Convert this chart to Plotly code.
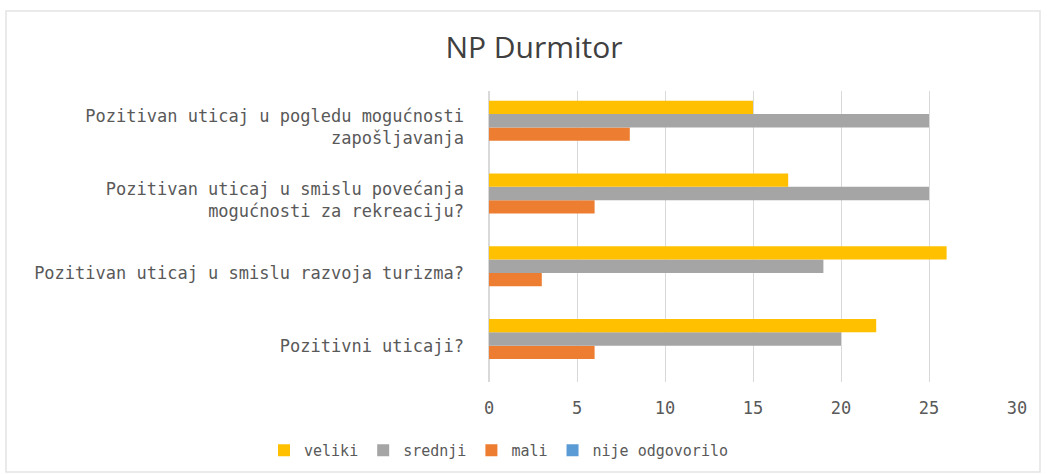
import plotly.graph_objects as go

categories = [
    "Pozitivni uticaji?",
    "Pozitivan uticaj u smislu razvoja turizma?",
    "Pozitivan uticaj u smislu povećanja<br>mogućnosti za rekreaciju?",
    "Pozitivan uticaj u pogledu mogućnosti<br>zapošljavanja",
]
veliki = [22, 26, 17, 15]
srednji = [20, 19, 25, 25]
mali = [6, 3, 6, 8]
nije_odgovorilo = [0, 0, 0, 0]

series = [
    ("nije odgovorilo", nije_odgovorilo, "#5B9BD5"),
    ("mali", mali, "#ED7D31"),
    ("srednji", srednji, "#A5A5A5"),
    ("veliki", veliki, "#FFC000"),
]

FONT = "DejaVu Sans Mono"
TXT = "#595959"

fig = go.Figure()
for name, vals, color in series:
    fig.add_trace(go.Bar(y=categories, x=vals, name=name, orientation="h",
                         marker=dict(color=color, line=dict(width=0))))

W, H = 1047, 474
ml, mr, mt, mb = 489, 30, 91, 92
pw, ph = W - ml - mr, H - mt - mb

def px_x(p):
    return (p - ml) / pw

def px_y(p):
    return (H - mb - p) / ph

fig.update_layout(
    width=W, height=H,
    margin=dict(l=ml, r=mr, t=mt, b=mb, autoexpand=False),
    paper_bgcolor="white", plot_bgcolor="white",
    font=dict(family=FONT, color=TXT, size=16),
    title=dict(text="NP Durmitor", x=534 / W, xanchor="center", y=1 - 47 / H, yanchor="middle",
               font=dict(family="Open Sans", size=30, color="#404040")),
    barmode="group", bargap=0.27, bargroupgap=0,
    legend=dict(orientation="h", x=px_x(264), xanchor="left", y=px_y(434), yanchor="top",
                traceorder="reversed", font=dict(family=FONT, size=15, color=TXT),
                itemwidth=30, tracegroupgap=0),
    showlegend=True,
    xaxis=dict(range=[0, 30], dtick=5, showgrid=True, gridcolor="#D9D9D9", gridwidth=1,
               zeroline=True, zerolinecolor="#D9D9D9", showline=False,
               ticklabelstandoff=14,
               tickfont=dict(family=FONT, size=17, color=TXT), fixedrange=True),
    yaxis=dict(type="category", categoryorder="array", categoryarray=categories,
               showgrid=False, showline=False, ticks="", ticklabelstandoff=24,
               tickfont=dict(family=FONT, size=17, color=TXT)),
    shapes=[dict(type="rect", xref="paper", yref="paper",
                 x0=px_x(6), x1=px_x(1040), y0=px_y(472), y1=px_y(11),
                 line=dict(color="#E3E3E3", width=1.5), fillcolor="rgba(0,0,0,0)", layer="below")],
)

fig.write_html("out.html", config={"displayModeBar": False},
               post_script="document.body.style.margin='0';")
